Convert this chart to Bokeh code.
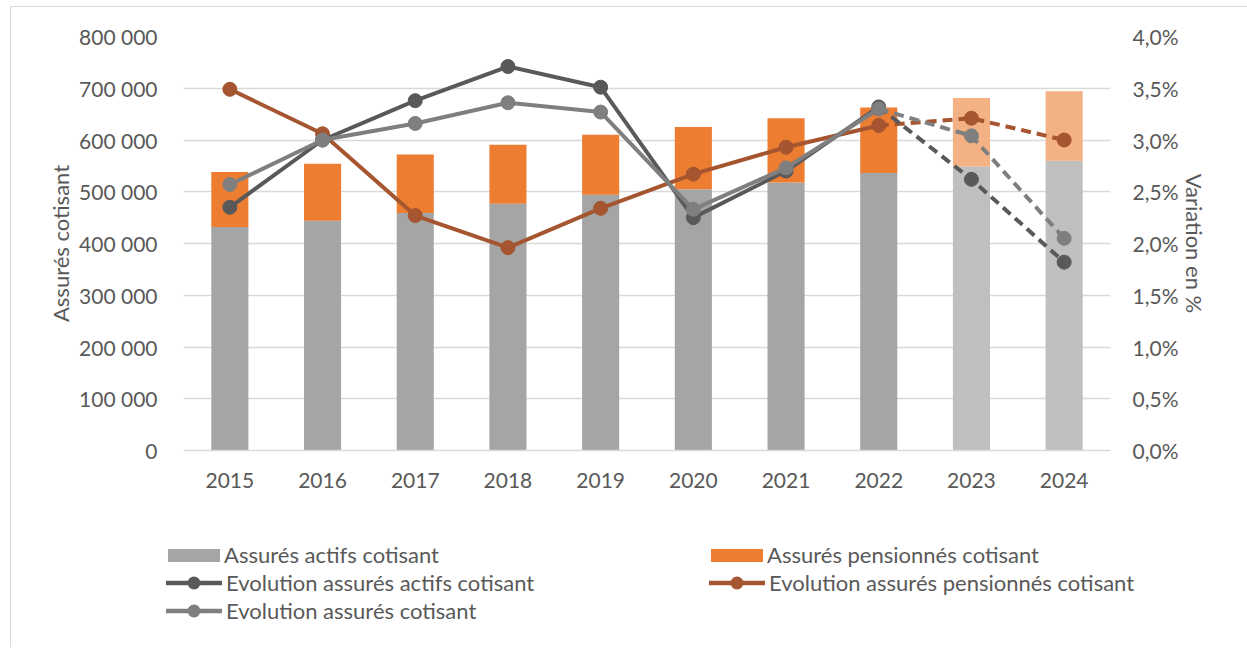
from bokeh.plotting import figure
from bokeh.layouts import column
from bokeh.models import (FactorRange, Range1d, LinearAxis, ColumnDataSource, Div,
                          CustomJSTickFormatter, FixedTicker)
from bokeh.embed import file_html
from bokeh.resources import INLINE

years = ["2015", "2016", "2017", "2018", "2019", "2020", "2021", "2022", "2023", "2024"]
actifs = [432000, 444000, 459000, 477000, 494000, 505000, 518000, 536000, 549000, 560000]
pensionnes = [106000, 110000, 113000, 114000, 116000, 120000, 124000, 127000, 132000, 134000]
evol_actifs = [2.35, 3.00, 3.38, 3.71, 3.51, 2.25, 2.70, 3.32, 2.62, 1.82]
evol_pensionnes = [3.49, 3.06, 2.27, 1.96, 2.34, 2.67, 2.93, 3.14, 3.21, 3.00]
evol_total = [2.57, 3.00, 3.16, 3.36, 3.27, 2.33, 2.73, 3.30, 3.04, 2.05]
projected = [False] * 8 + [True] * 2
left_ticks = [0, 100000, 200000, 300000, 400000, 500000, 600000, 700000, 800000]
right_ticks = [0, 0.5, 1.0, 1.5, 2.0, 2.5, 3.0, 3.5, 4.0]
legend_labels = ["Assurés actifs cotisant", "Assurés pensionnés cotisant",
                 "Evolution assurés actifs cotisant", "Evolution assurés pensionnés cotisant",
                 "Evolution assurés cotisant"]

FONT = "Lato"
TXT = "#595959"
GRID = "#D9D9D9"
C_ACT = "#A5A5A5"
C_ACT_P = "#BFBFBF"
C_PEN = "#ED7D31"
C_PEN_P = "#F4B183"
C_L_ACT = "#595959"
C_L_PEN = "#A5552F"
C_L_TOT = "#7F7F7F"

W = 1231
p = figure(width=W, height=494, x_range=FactorRange(*years, range_padding=0),
           y_range=Range1d(0, 800000), output_backend="svg", toolbar_location=None,
           min_border_left=172, min_border_right=132, min_border_top=29, min_border_bottom=51)
p.extra_y_ranges = {"pct": Range1d(0, 4)}
p.outline_line_color = None
p.background_fill_color = "white"

src = ColumnDataSource(dict(
    year=years, actifs=actifs, pensionnes=pensionnes,
    top=[a + b for a, b in zip(actifs, pensionnes)],
    c_act=[C_ACT_P if pr else C_ACT for pr in projected],
    c_pen=[C_PEN_P if pr else C_PEN for pr in projected],
))

p.vbar(x="year", bottom=0, top="actifs", width=0.4, fill_color="c_act", line_color=None, source=src)
p.vbar(x="year", bottom="actifs", top="top", width=0.4, fill_color="c_pen", line_color=None, source=src)

n_solid = projected.index(True)
solid_x = years[:n_solid]
dash_x = years[n_solid - 1:]

LW = 4
MS = 14
for vals, col in [(evol_pensionnes, C_L_PEN), (evol_actifs, C_L_ACT), (evol_total, C_L_TOT)]:
    p.line(solid_x, vals[:n_solid], y_range_name="pct", line_color=col, line_width=LW)
    p.line(dash_x, vals[n_solid - 1:], y_range_name="pct", line_color=col, line_width=LW, line_dash="10 6")
    p.scatter(years, vals, y_range_name="pct", size=MS, marker="circle", fill_color=col, line_color=col)

# axes
p.yaxis.ticker = FixedTicker(ticks=left_ticks)
p.yaxis.formatter = CustomJSTickFormatter(code="return tick.toString().replace(/\\B(?=(\\d{3})+(?!\\d))/g, ' ');")
p.yaxis.axis_label = "Assurés cotisant"
p.yaxis.major_label_standoff = 20
p.yaxis.axis_label_standoff = 2

ax_r = LinearAxis(y_range_name="pct", ticker=FixedTicker(ticks=right_ticks),
                  formatter=CustomJSTickFormatter(code="return tick.toFixed(1).replace('.', ',') + '%';"),
                  axis_label="Variation en %")
ax_r.major_label_standoff = 16
ax_r.axis_label_standoff = 0
p.add_layout(ax_r, "right")

for ax in [p.yaxis[0], ax_r]:
    ax.axis_line_color = None
for ax in [p.yaxis[0], ax_r, p.xaxis[0]]:
    ax.major_tick_line_color = None
    ax.minor_tick_line_color = None
    ax.major_label_text_font = FONT
    ax.major_label_text_font_size = "21px"
    ax.major_label_text_color = TXT
    ax.axis_label_text_font = FONT
    ax.axis_label_text_font_size = "22px"
    ax.axis_label_text_font_style = "normal"
    ax.axis_label_text_color = TXT
p.xaxis.axis_line_color = GRID
p.xaxis.axis_line_width = 1.5
p.xaxis.major_label_standoff = 16

p.xgrid.grid_line_color = None
p.ygrid.grid_line_color = GRID
p.ygrid.grid_line_width = 1.5


# legend as HTML (real text)
def bar_icon(color):
    return (f'<span style="display:inline-block;width:52px;height:13px;margin-left:2px;'
            f'background:{color};"></span>')


def line_icon(color):
    return (f'<svg width="56" height="16" style="display:block">'
            f'<line x1="0" y1="8" x2="56" y2="8" stroke="{color}" stroke-width="{LW + 0.5}" '
            f'stroke-linecap="round"/>'
            f'<circle cx="28" cy="8" r="6.5" fill="{color}"/></svg>')


entries = [
    (bar_icon(C_ACT), legend_labels[0], 150, 49),
    (bar_icon(C_PEN), legend_labels[1], 693, 49),
    (line_icon(C_L_ACT), legend_labels[2], 150, 77),
    (line_icon(C_L_PEN), legend_labels[3], 693, 77),
    (line_icon(C_L_TOT), legend_labels[4], 150, 105),
]
html = (f'<div style="position:relative;width:{W}px;height:136px;font-family:{FONT};'
        f'font-size:22px;color:{TXT};">')
for icon, label, lx, cy in entries:
    html += (f'<div style="position:absolute;left:{lx}px;top:{cy - 13}px;height:26px;'
             f'display:flex;align-items:center;white-space:nowrap;">'
             f'{icon}<span style="margin-left:4px;line-height:26px;">{label}</span></div>')
html += '</div>'
leg = Div(text=html, width=W, height=136)

layout = column(p, leg, spacing=0)
layout.styles = {"border-top": "1px solid #D9D9D9", "border-left": "1px solid #D9D9D9",
                 "margin-left": "10px", "margin-top": "6px"}

open("out.html", "w").write(file_html(layout, INLINE))
